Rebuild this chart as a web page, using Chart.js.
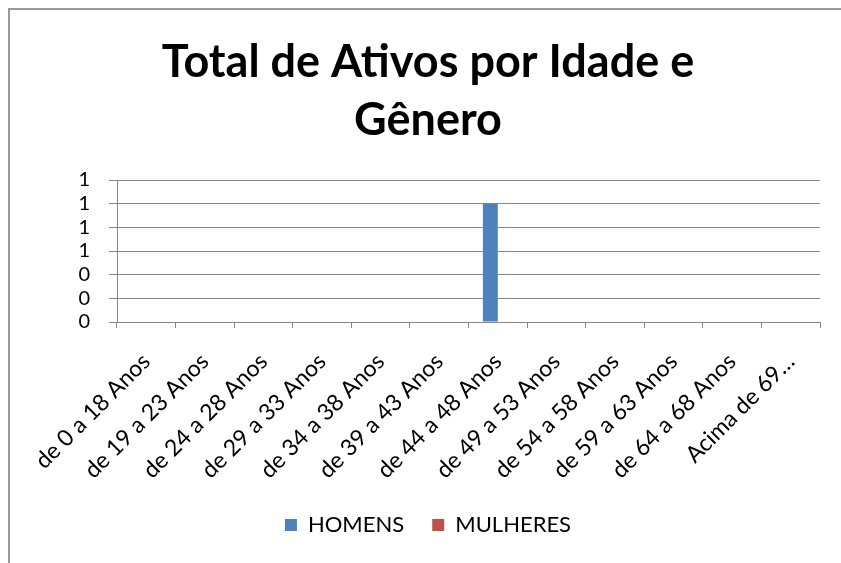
<!DOCTYPE html>
<html>
<head>
<meta charset="utf-8">
<script src="https://cdn.jsdelivr.net/npm/chart.js@4.4.1/dist/chart.umd.min.js"></script>
<style>
  html, body { margin: 0; padding: 0; background: #fff; overflow: hidden; }
  #moldura { position: absolute; left: 8px; top: 8px; width: 900px; height: 600px;
             border-top: 2px solid #9a9a9a; border-left: 2px solid #9a9a9a; }
  #wrap { position: absolute; left: 0; top: 0; width: 841px; height: 563px; }
</style>
</head>
<body>
<div id="moldura"></div>
<div id="wrap"><canvas id="grafico" width="841" height="563"></canvas></div>
<script>
const faixas = [
  'de 0 a 18 Anos', 'de 19 a 23 Anos', 'de 24 a 28 Anos', 'de 29 a 33 Anos',
  'de 34 a 38 Anos', 'de 39 a 43 Anos', 'de 44 a 48 Anos', 'de 49 a 53 Anos',
  'de 54 a 58 Anos', 'de 59 a 63 Anos', 'de 64 a 68 Anos', 'Acima de 69…'
];
const homens   = [0, 0, 0, 0, 0, 0, 1, 0, 0, 0, 0, 0];
const mulheres = [0, 0, 0, 0, 0, 0, 0, 0, 0, 0, 0, 0];
const yMax = 1.2;
const yStep = 0.2;

const cinza = '#868686';
const fonte = 'Lato';

new Chart(document.getElementById('grafico'), {
  type: 'bar',
  data: {
    labels: faixas,
    datasets: [
      { label: 'HOMENS', data: homens, backgroundColor: '#4F81BD' },
      { label: 'MULHERES', data: mulheres, backgroundColor: '#C0504D' }
    ]
  },
  options: {
    responsive: false,
    animation: false,
    categoryPercentage: 0.51,
    barPercentage: 1.0,
    layout: { padding: { top: 0, right: 21, bottom: 17, left: 36 } },
    plugins: {
      title: {
        display: true,
        text: ['Total de Ativos por Idade e', 'Gênero'],
        color: '#000',
        font: { family: fonte, size: 45, weight: 'bold', lineHeight: 58 / 45 },
        padding: { top: 33, bottom: 31 }
      },
      legend: {
        position: 'bottom',
        labels: {
          color: '#000',
          font: { family: fonte, size: 22 },
          boxWidth: 12,
          boxHeight: 12,
          padding: 28
        }
      },
      tooltip: { enabled: false }
    },
    scales: {
      x: {
        grid: { drawOnChartArea: false, offset: true, color: cinza, tickLength: 6 },
        border: { color: cinza },
        ticks: {
          color: '#000',
          font: { family: fonte, size: 23 },
          autoSkip: false,
          minRotation: 45,
          maxRotation: 45,
          padding: 20
        },
        afterFit: function(scale) { scale.height = 164; }
      },
      y: {
        min: 0,
        max: yMax,
        grid: { color: cinza, tickLength: 8 },
        border: { color: cinza },
        ticks: {
          stepSize: yStep,
          autoSkip: false,
          color: '#000',
          font: { family: fonte, size: 20, lineHeight: 1 },
          padding: 19,
          callback: v => Number(v).toFixed(0)
        },
        afterFit: function(scale) { scale.width = 81; }
      }
    }
  }
});
</script>
</body>
</html>
